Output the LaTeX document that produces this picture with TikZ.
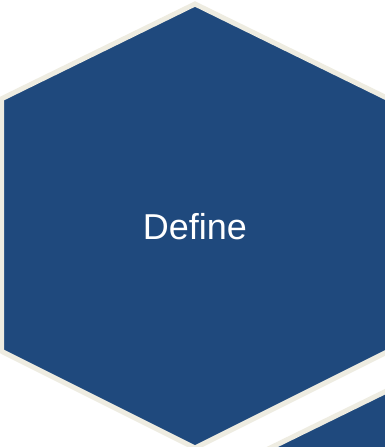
\documentclass[tikz,border=0pt]{standalone}
\usepackage{fontspec}
\setmainfont{Liberation Sans}
\definecolor{hexblue}{RGB}{31,73,125}
\definecolor{hexcream}{RGB}{238,236,225}
\begin{document}
\begin{tikzpicture}[x=1pt,y=-1pt,
  hexcell/.style={fill=hexblue,draw=hexcream,line width=5pt,line join=miter},
  hexlabel/.style={text=white,font=\fontsize{36}{40}\selectfont,inner sep=0pt}]
\useasboundingbox (0,0) rectangle (385,447);
\clip (0,0) rectangle (385,447);
\fill[white] (0,0) rectangle (385,447);
% main hexagon
\draw[hexcell] (195,4) -- (388.5,98.8) -- (388.5,351.2) -- (195,448) -- (1.5,351.2) -- (1.5,98.8) -- cycle;
% neighbouring hexagon (lower right)
\begin{scope}[shift={(208.7,378.6)}]
\draw[hexcell] (195,4) -- (388.5,98.8) -- (388.5,351.2) -- (195,448) -- (1.5,351.2) -- (1.5,98.8) -- cycle;
\end{scope}
\node[hexlabel] (define) at (195,227) {Define};
\end{tikzpicture}
\end{document}
